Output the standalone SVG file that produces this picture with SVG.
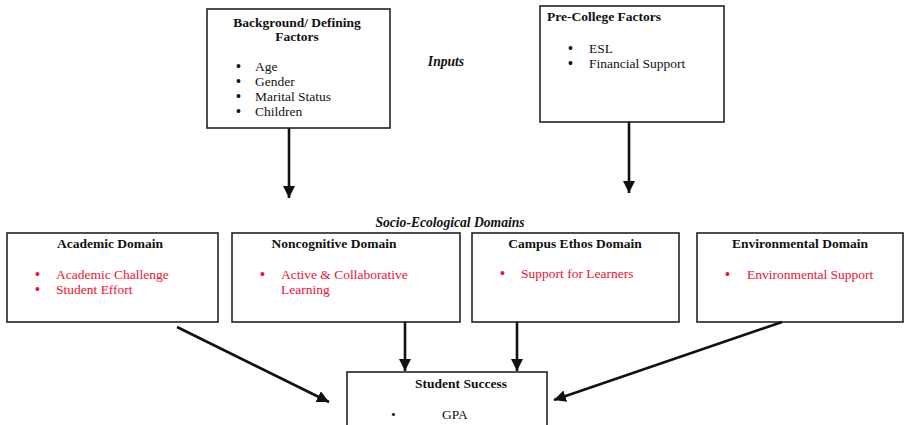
<svg xmlns="http://www.w3.org/2000/svg" width="906" height="425" viewBox="0 0 906 425">
<defs>
<style>
.box{fill:#fff;stroke:#222;stroke-width:1.6}
.t{font-family:"Liberation Serif","Times New Roman",serif;font-size:13.5px;fill:#111}
.d{font-family:"Liberation Serif","Times New Roman",serif;font-size:14px;font-weight:bold;fill:#111}
.b{font-weight:bold}
.r{fill:#ee1133}
.lbl{font-family:"Liberation Serif","Times New Roman",serif;font-size:13.6px;font-weight:bold;font-style:italic;fill:#111}
.arr{stroke:#111;stroke-width:2.6;fill:none;marker-end:url(#ah)}
</style>
<marker id="ah" markerUnits="userSpaceOnUse" markerWidth="14" markerHeight="12" refX="12" refY="6" orient="auto">
<path d="M0,0 L12,6 L0,12 Z" fill="#111"/>
</marker>
</defs>
<rect width="906" height="425" fill="#fff"/>
<text class="lbl" x="446" y="66" text-anchor="middle">Inputs</text>
<text class="lbl" x="450" y="227" text-anchor="middle">Socio-Ecological Domains</text>

<g id="background">
<rect class="box" x="207" y="9" width="183" height="119"/>
<text class="t b" x="297" y="27" text-anchor="middle">Background/ Defining</text>
<text class="t b" x="297" y="41" text-anchor="middle">Factors</text>
<text class="d" x="236" y="71">•</text><text class="t" x="255" y="71">Age</text>
<text class="d" x="236" y="86">•</text><text class="t" x="255" y="86">Gender</text>
<text class="d" x="236" y="101">•</text><text class="t" x="255" y="101">Marital Status</text>
<text class="d" x="236" y="116">•</text><text class="t" x="255" y="116">Children</text>
</g>

<g id="precollege">
<rect class="box" x="540" y="6" width="184" height="116"/>
<text class="t b" x="547" y="21">Pre-College Factors</text>
<text class="d" x="568" y="53">•</text><text class="t" x="589" y="53">ESL</text>
<text class="d" x="568" y="68">•</text><text class="t" x="589" y="68">Financial Support</text>
</g>

<g id="academic">
<rect class="box" x="7" y="233" width="211" height="89"/>
<text class="t b" x="110" y="248" text-anchor="middle">Academic Domain</text>
<text class="d r" x="35" y="279">•</text><text class="t r" x="56" y="279">Academic Challenge</text>
<text class="d r" x="35" y="294">•</text><text class="t r" x="56" y="294">Student Effort</text>
</g>

<g id="noncognitive">
<rect class="box" x="232" y="233" width="228" height="89"/>
<text class="t b" x="334" y="248" text-anchor="middle">Noncognitive Domain</text>
<text class="d r" x="260" y="279">•</text><text class="t r" x="281" y="279">Active &amp; Collaborative</text>
<text class="t r" x="281" y="294">Learning</text>
</g>

<g id="campus">
<rect class="box" x="472" y="233" width="207" height="89"/>
<text class="t b" x="575" y="248" text-anchor="middle">Campus Ethos Domain</text>
<text class="d r" x="500" y="278">•</text><text class="t r" x="521" y="278">Support for Learners</text>
</g>

<g id="environmental">
<rect class="box" x="697" y="233" width="206" height="89"/>
<text class="t b" x="800" y="248" text-anchor="middle">Environmental Domain</text>
<text class="d r" x="725" y="279">•</text><text class="t r" x="747" y="279">Environmental Support</text>
</g>

<g id="success">
<rect class="box" x="347" y="372" width="200" height="56"/>
<text class="t b" x="461" y="388" text-anchor="middle">Student Success</text>
<text class="t" x="391" y="419">•</text><text class="t" x="442" y="419">GPA</text>
</g>

<g id="connectors">
<line class="arr" x1="289" y1="128" x2="289" y2="198"/>
<line class="arr" x1="629" y1="122" x2="629" y2="193"/>
<line class="arr" x1="405" y1="322" x2="405" y2="371"/>
<line class="arr" x1="517" y1="322" x2="517" y2="371"/>
<line class="arr" x1="177" y1="327" x2="329" y2="402"/>
<line class="arr" x1="782" y1="322" x2="554" y2="400"/>
</g>
</svg>
